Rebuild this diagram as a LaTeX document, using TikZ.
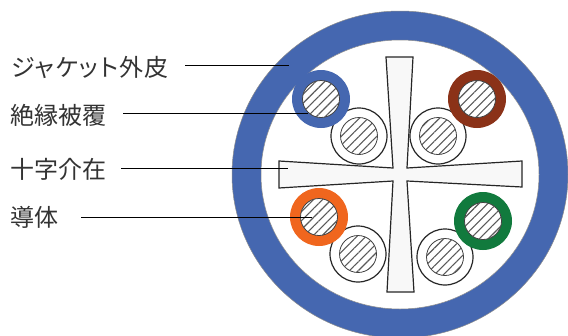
\documentclass[tikz,border=0pt]{standalone}
\usepackage{fontspec}
\setmainfont{Noto Sans CJK JP}
\newfontfamily\kanafont[RawFeature=+palt,LetterSpace=5.5]{Noto Sans CJK JP}
\usepackage{tikz}
\usetikzlibrary{patterns.meta,shapes.geometric}

\definecolor{jacketblue}{HTML}{4567B0}
\definecolor{pairbrown}{HTML}{8B3218}
\definecolor{pairorange}{HTML}{F0661E}
\definecolor{pairgreen}{HTML}{117A3D}
\definecolor{crossfill}{HTML}{F8F8F8}
\definecolor{labelgray}{HTML}{333333}

\begin{document}
\begin{tikzpicture}[x=1pt,y=-1pt,
    sheath/.style={circle,draw=none,fill=#1,inner sep=0pt,minimum size=58pt},
    plainsheath/.style={circle,draw=black!85,line width=1.2pt,fill=white,inner sep=0pt,minimum size=56pt},
    core/.style={circle,draw=black!75,line width=0.8pt,fill=white,inner sep=0pt,minimum size=37pt,
      postaction={pattern={Lines[angle=45,distance=6.3pt,line width=1.1pt]},pattern color=black!65}},
    partlabel/.style={anchor=west,inner sep=0pt,font=\fontsize{24}{26}\selectfont,text=labelgray},
    leader/.style={draw=black,line width=1pt}]
  \clip (0,0) rectangle (568,335);
  \fill[white] (0,0) rectangle (568,335);
  % jacket
  \node[ellipse,draw=black!45,line width=0.5pt,fill=jacketblue,inner sep=0pt,minimum width=336pt,minimum height=327pt] (jacket) at (400,174.5) {};
  \node[ellipse,draw=black!45,line width=0.5pt,fill=white,inner sep=0pt,minimum width=278pt,minimum height=269pt] (jacketin) at (400,174.5) {};
  % cross filler
  \draw[draw=black!85,line width=1.2pt,fill=crossfill,line join=miter]
    (386,57) -- (413,57) -- (407,168) -- (522,161) -- (522,187) -- (407,181)
    -- (414,292) -- (387,292) -- (393,181) -- (279,188) -- (279,161) -- (393,168) -- cycle;
  % plain pairs
  \node[plainsheath] (wa) at (359,136) {};
  \node[core] (ca) at (359,136) {};
  \node[plainsheath] (wb) at (438,136) {};
  \node[core] (cb) at (438,136) {};
  \node[plainsheath] (wc) at (358,254) {};
  \node[core] (cc) at (358,254) {};
  \node[plainsheath] (wd) at (445,257) {};
  \node[core] (cd) at (445,257) {};
  % coloured pairs
  \node[sheath=jacketblue] (we) at (321,99) {};
  \node[core] (ce) at (321,99) {};
  \node[sheath=pairbrown] (wf) at (477,99) {};
  \node[core] (cf) at (477,99) {};
  \node[sheath=pairorange] (wg) at (319,217) {};
  \node[core] (cg) at (319,217) {};
  \node[sheath=pairgreen] (wh) at (483,221) {};
  \node[core] (ch) at (483,221) {};
  % labels
  \node[partlabel] (ljacket) at (11,67) {\kanafont ジャケット外皮};
  \node[partlabel] (lsheath) at (10,115) {絶縁被覆};
  \node[partlabel] (lcross) at (10,169) {十字介在};
  \node[partlabel] (lcore) at (10,217) {導体};
  % leaders
  \coordinate (tjacket) at (289,65);
  \coordinate (tsheath) at (308,113);
  \coordinate (tcross) at (288,168);
  \coordinate (tcore) at (312,217);
  \coordinate (sjacket) at (185,65);
  \coordinate (ssheath) at (123,113);
  \coordinate (scross) at (121,168);
  \coordinate (score) at (81,217);
  \draw[leader] (sjacket) -- (tjacket);
  \draw[leader] (ssheath) -- (tsheath);
  \draw[leader] (scross) -- (tcross);
  \draw[leader] (score) -- (tcore);
\end{tikzpicture}
\end{document}
